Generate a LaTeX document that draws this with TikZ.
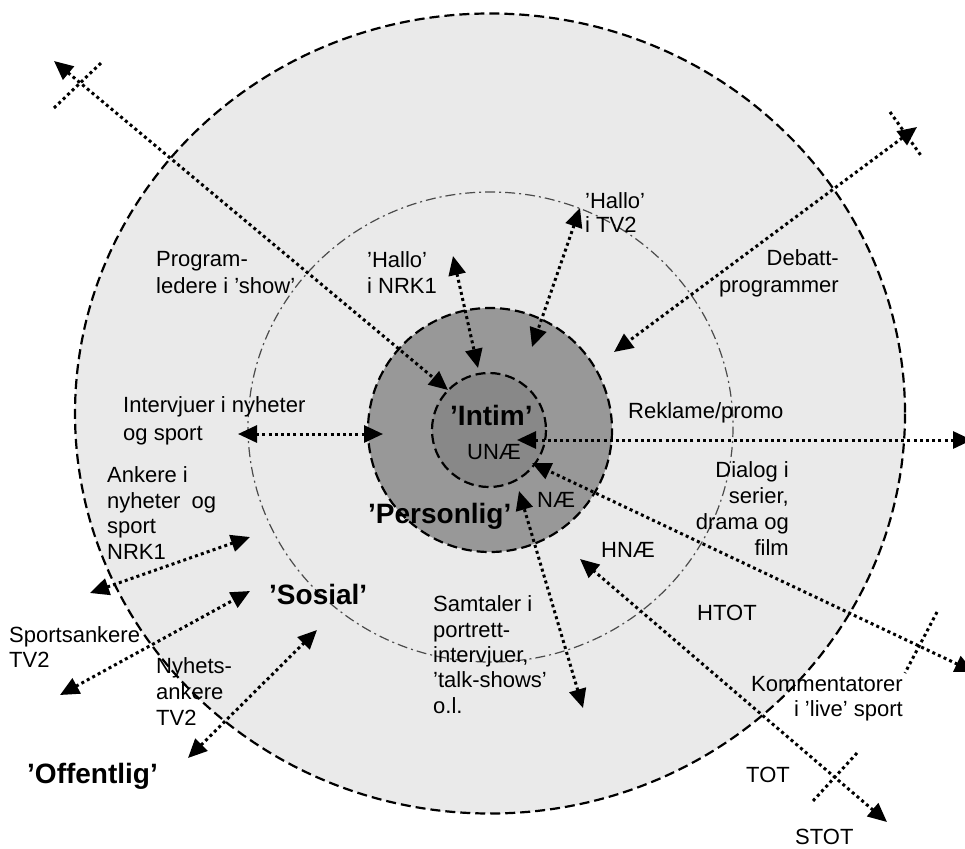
\documentclass[tikz,border=0pt]{standalone}
\usepackage{fontspec}
\setmainfont{Liberation Sans}
\usetikzlibrary{arrows.meta}
\definecolor{zoneout}{RGB}{234,234,234}
\definecolor{zonepers}{RGB}{152,152,152}
\definecolor{zoneintim}{RGB}{136,136,136}
\definecolor{ringgray}{RGB}{75,75,75}

\begin{document}
\begin{tikzpicture}[x=1pt,y=-1pt,
  zoneline/.style={line width=2.2pt, dash pattern=on 10pt off 5pt},
  socialline/.style={line width=1.2pt, ringgray, dash pattern=on 10pt off 4pt on 2pt off 4pt},
  dotline/.style={line width=3pt, dash pattern=on 3pt off 3.2pt},
  link/.style={dotline, {Triangle[length=19pt,width=17pt]}-{Triangle[length=19pt,width=17pt]}},
  lbl/.style={inner sep=0pt, font=\fontsize{22}{25.5}\selectfont, align=left, anchor=base west},
  lblr/.style={inner sep=0pt, font=\fontsize{22}{25.5}\selectfont, align=right, anchor=base east},
  zone/.style={inner sep=0pt, font=\fontsize{28}{32}\selectfont\bfseries, anchor=base west},
]
\useasboundingbox (0,0) rectangle (965,848);

% zones, from the public one inwards
\fill[zoneout] (490,413.5) ellipse [x radius=415, y radius=400];
\fill[zonepers] (490,430) circle [radius=122];
\fill[zoneintim] (489,430) circle [radius=57];
\draw[zoneline] (490,413.5) ellipse [x radius=415, y radius=400];
\draw[socialline] (490.5,427) ellipse [x radius=242.5, y radius=235];
\draw[zoneline] (490,430) circle [radius=122];
\draw[zoneline] (489,430) circle [radius=57];

% end points of the distance arrows
\coordinate (a1) at (54,61);   \coordinate (b1) at (448,390);
\coordinate (a2) at (453,256); \coordinate (b2) at (478,368);
\coordinate (a3) at (580,208); \coordinate (b3) at (532,347);
\coordinate (a4) at (917,127); \coordinate (b4) at (614,352);
\coordinate (a5) at (972,440); \coordinate (b5) at (517,440);
\coordinate (a6) at (974,672); \coordinate (b6) at (532,463);
\coordinate (a7) at (583,708); \coordinate (b7) at (519,491);
\coordinate (a8) at (887,822); \coordinate (b8) at (580,559);
\coordinate (a9) at (238,434); \coordinate (b9) at (383,434);
\coordinate (a10) at (90,593); \coordinate (b10) at (250,537);
\coordinate (a11) at (60,695); \coordinate (b11) at (250,591);
\coordinate (a12) at (188,758); \coordinate (b12) at (317,630);

\draw[link] (a1) -- (b1);
\draw[link] (a2) -- (b2);
\draw[link] (a3) -- (b3);
\draw[link] (a4) -- (b4);
\draw[link] (a5) -- (b5);
\draw[link] (a6) -- (b6);
\draw[link] (a7) -- (b7);
\draw[link] (a8) -- (b8);
\draw[link] (a9) -- (b9);
\draw[link] (a10) -- (b10);
\draw[link] (a11) -- (b11);
\draw[link] (a12) -- (b12);

% cross marks on the long arrows
\coordinate (x1a) at (54,108);  \coordinate (x1b) at (102,62);
\coordinate (x2a) at (890,112); \coordinate (x2b) at (922,157);
\coordinate (x3a) at (937,612); \coordinate (x3b) at (905,673);
\coordinate (x4a) at (857,753); \coordinate (x4b) at (812,802);
\draw[dotline] (x1a) -- (x1b);
\draw[dotline] (x2a) -- (x2b);
\draw[dotline] (x3a) -- (x3b);
\draw[dotline] (x4a) -- (x4b);

% zone names
\node[zone] (intim) at (450,425) {’Intim’};
\node[zone] (personlig) at (368,523) {’Personlig’};
\node[zone] (sosial) at (269,604) {’Sosial’};
\node[zone] (offentlig) at (27,783) {’Offentlig’};

% distance labels
\node[lbl] (unae) at (467,459) {UNÆ};
\node[lbl] (nae) at (537,507) {NÆ};
\node[lbl] (hnae) at (601,557) {HNÆ};
\node[lbl] (htot) at (697,620) {HTOT};
\node[lbl] (tot) at (746,782) {TOT};
\node[lbl] (stot) at (795,844) {STOT};

% programme types (anchored at the baseline of the last line)
\node[lbl, font=\fontsize{22}{27}\selectfont] (prog) at (156,293) {Program-\\ledere i ’show’};
\node[lbl, font=\fontsize{22}{26}\selectfont] (hnrk) at (367,293) {’Hallo’\\i NRK1};
\node[lbl, font=\fontsize{22}{24.5}\selectfont] (htv) at (585,232.5) {’Hallo’\\i TV2};
\node[lblr, font=\fontsize{22}{27}\selectfont] (debatt) at (839,292) {Debatt-\\programmer};
\node[lbl] (reklame) at (628,418) {Reklame/promo};
\node[lbl, font=\fontsize{22}{28}\selectfont] (interv) at (123,440) {Intervjuer i nyheter\\og sport};
\node[lbl] (ankere) at (107,559) {Ankere i\\nyheter\hspace{5pt} og\\sport\\NRK1};
\node[lbl, font=\fontsize{22}{25}\selectfont] (sportsank) at (9,667) {Sportsankere\\TV2};
\node[lbl, font=\fontsize{22}{26}\selectfont] (nyhets) at (156,725) {Nyhets-\\ankere\\TV2};
\node[lbl, font=\fontsize{22}{25.3}\selectfont] (samtaler) at (433,713) {Samtaler i\\portrett-\\intervjuer,\\’talk-shows’\\o.l.};
\node[lblr, font=\fontsize{22}{25.7}\selectfont] (dialog) at (789,555) {Dialog i\\serier,\\drama og\\film};
\node[lblr, font=\fontsize{22}{25}\selectfont] (komm) at (903,716) {Kommentatorer\\i ’live’ sport};
\end{tikzpicture}
\end{document}
